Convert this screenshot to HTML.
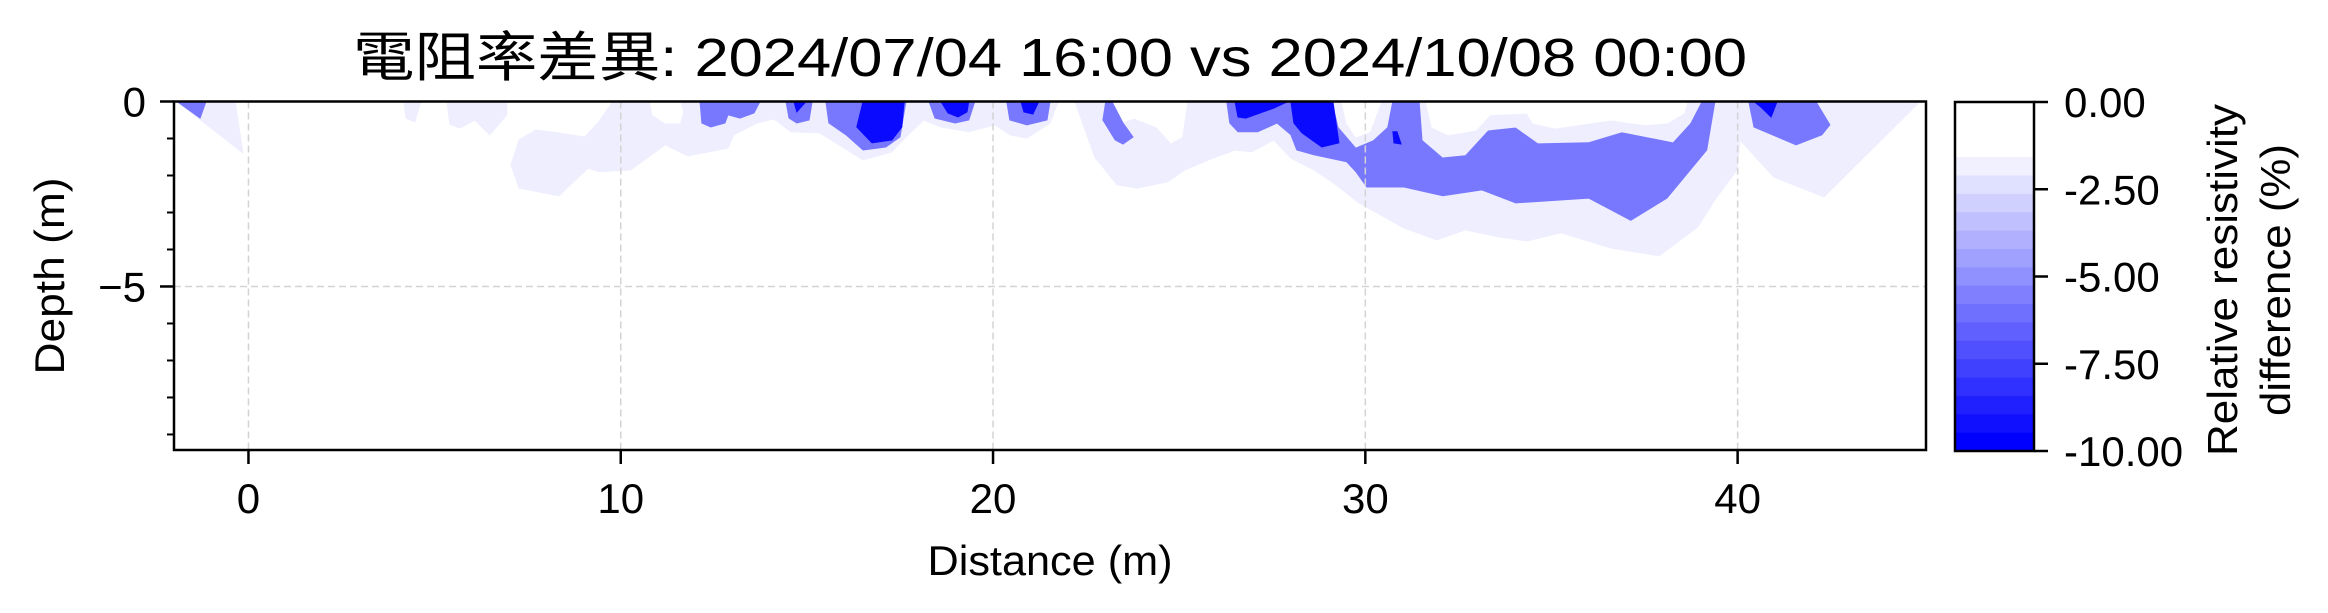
<!DOCTYPE html>
<html><head><meta charset="utf-8">
<style>
html,body{margin:0;padding:0;background:#fff;}
svg{display:block;}
text{font-family:"Liberation Sans","Noto Sans CJK TC",sans-serif;fill:#000;}
</style></head>
<body>
<svg id="chart" width="2328" height="613" viewBox="0 0 2328 613" xmlns="http://www.w3.org/2000/svg">
  <rect x="0" y="0" width="2328" height="613" fill="#fff"/>
  <text x="1050" y="76" font-size="54" text-anchor="middle" textLength="1394" lengthAdjust="spacingAndGlyphs">電阻率差異: 2024/07/04 16:00 vs 2024/10/08 00:00</text>
  <clipPath id="plotclip"><rect x="174" y="101.5" width="1752" height="348.5"/></clipPath>
  <g id="contours" clip-path="url(#plotclip)"></g>
  <g id="grid"></g>
  <g id="axes"></g>
  <g id="cbar"></g>
  <text x="1050" y="575" font-size="42" text-anchor="middle" textLength="245" lengthAdjust="spacingAndGlyphs">Distance (m)</text>
  <text x="0" y="0" font-size="42" text-anchor="middle" textLength="197" lengthAdjust="spacingAndGlyphs" transform="translate(64,276) rotate(-90)">Depth (m)</text>
  <text font-size="42" text-anchor="middle" transform="translate(2237,280) rotate(-90)"><tspan x="0" y="0" textLength="352" lengthAdjust="spacingAndGlyphs">Relative resistivity</tspan><tspan x="0" y="53" textLength="272" lengthAdjust="spacingAndGlyphs">difference (%)</tspan></text>
</svg>
<script>
// ---- axis config data ----
const xTicks = [0, 10, 20, 30, 40];
const yTicks = [0, -5];
const yMinorTicks = [-1, -2, -3, -4, -6, -7, -8, -9];
const cbarTicks = [0, -2.5, -5, -7.5, -10];
const cbarTickLabels = ["0.00", "-2.50", "-5.00", "-7.50", "-10.00"];
const cbarLevelCount = 19;

// ---- contour regions: [distance m, depth m] ----
const lightLeftTri = [[-1.92,0],[-0.15,-1.39],[-0.36,0]];
const lightBlobA = [[4.18,0],[4.23,-0.45],[4.47,-0.55],[4.63,0]];
const lightBlobB = [[5.33,0],[5.41,-0.61],[5.68,-0.72],[6.08,-0.50],[6.48,-0.90],[6.94,-0.36],[6.94,0]];
const lightMainLeft = [[9.79,0],[9.41,-0.55],[9.04,-0.96],[8.10,-0.82],[7.72,-0.77],[7.27,-1.04],[7.05,-1.71],[7.27,-2.34],[8.34,-2.55],[9.12,-1.80],[9.41,-1.90],[10.27,-1.85],[11.19,-1.17],[11.80,-1.47],[12.88,-1.26],[13.04,-0.90],[13.66,-0.58],[14.11,-0.47],[14.57,-0.82],[15.35,-0.85],[16.51,-1.58],[17.28,-1.36],[17.66,-0.96],[18.14,-0.50],[18.60,-0.69],[19.35,-0.82],[20.05,-0.63],[20.45,-0.90],[20.91,-0.99],[21.53,-0.58],[21.75,0]];
const lightMainRight = [[22.20,0],[22.73,-1.50],[23.33,-2.25],[23.87,-2.34],[24.70,-2.17],[25.15,-1.85],[25.91,-1.53],[26.50,-1.31],[26.95,-1.36],[27.54,-1.04],[28.00,-1.53],[28.62,-1.85],[29.21,-2.25],[29.83,-2.74],[31.04,-3.42],[31.92,-3.74],[32.68,-3.47],[33.59,-3.66],[34.34,-3.77],[35.25,-3.55],[36.60,-3.96],[37.89,-4.17],[38.93,-3.39],[39.39,-2.66],[39.98,-1.85],[40.06,-1.04],[40.97,-2.04],[42.32,-2.58],[44.90,0]];
const whiteNotchA = [[10.79,0],[10.86,-0.36],[11.19,-0.58],[11.59,-0.58],[11.67,-0.28],[11.59,0]];
const whiteNotchB = [[23.12,0],[23.49,-0.55],[23.79,-0.45],[24.40,-0.69],[24.78,-1.12],[25.07,-0.96],[25.21,0]];
const midLeftTri = [[-1.92,0],[-1.30,-0.45],[-1.14,0]];
const mid12 = [[12.13,0],[12.18,-0.58],[12.42,-0.69],[12.80,-0.58],[12.88,-0.36],[13.20,-0.45],[13.58,-0.31],[13.74,0]];
const mid15 = [[14.44,0],[14.52,-0.45],[14.73,-0.58],[15.06,-0.50],[15.14,0]];
const mid17 = [[15.51,0],[15.59,-0.58],[16.05,-0.90],[16.51,-1.31],[17.12,-1.23],[17.50,-0.96],[17.66,0]];
const mid19 = [[18.28,0],[18.44,-0.45],[18.98,-0.58],[19.35,-0.50],[19.51,0]];
const mid21 = [[20.37,0],[20.45,-0.50],[20.91,-0.63],[21.45,-0.50],[21.53,0]];
const mid23 = [[23.03,0],[22.95,-0.50],[23.28,-1.04],[23.49,-1.15],[23.76,-0.96],[23.49,-0.58],[23.19,0]];
const midMain = [[26.28,0],[26.36,-0.58],[26.58,-0.82],[27.11,-0.82],[27.63,-0.58],[28.00,-0.90],[28.16,-1.31],[28.62,-1.44],[29.50,-1.63],[29.75,-1.90],[30.04,-2.31],[31.04,-2.31],[32.08,-2.55],[33.13,-2.39],[34.04,-2.74],[36.00,-2.61],[37.13,-3.21],[38.10,-2.61],[39.17,-1.31],[39.39,0]];
const mid41 = [[40.30,0],[40.44,-0.69],[41.57,-1.17],[42.26,-0.90],[42.48,-0.63],[42.10,0]];
const lightHole30 = [[29.13,0],[29.29,-0.69],[29.75,-1.23],[30.20,-1.04],[30.58,-0.69],[30.71,0]];
const whiteHole30 = [[29.37,0],[29.50,-0.58],[29.75,-0.96],[30.12,-0.82],[30.42,0]];
const lightHole35 = [[31.47,0],[31.55,-1.04],[32.08,-1.50],[32.68,-1.44],[33.29,-0.77],[34.04,-0.69],[34.64,-1.12],[36.00,-1.09],[36.89,-0.82],[38.26,-1.09],[38.72,-0.58],[39.02,0]];
const whiteHole35 = [[31.63,0],[31.79,-0.69],[32.22,-0.90],[32.97,-0.77],[33.35,-0.36],[34.34,-0.31],[34.50,-0.58],[35.09,-0.72],[36.60,-0.50],[37.52,-0.63],[38.11,-0.58],[38.56,-0.31],[38.64,0]];
const dark15 = [[14.65,0],[14.73,-0.28],[14.98,0]];
const dark17 = [[16.51,0],[16.34,-0.69],[16.75,-1.12],[17.28,-1.04],[17.55,-0.69],[17.61,0]];
const dark19 = [[18.60,0],[18.79,-0.31],[19.06,-0.42],[19.30,-0.28],[19.35,0]];
const dark21 = [[20.75,0],[20.83,-0.28],[21.07,-0.34],[21.23,0]];
const dark27 = [[26.50,0],[26.58,-0.42],[26.79,-0.45],[27.17,-0.31],[27.54,-0.18],[27.92,0]];
const dark28 = [[28.00,0],[28.08,-0.58],[28.30,-0.85],[28.83,-1.23],[29.29,-1.12],[29.13,0]];
const dark31 = [[30.74,-0.82],[30.85,-0.82],[30.96,-1.15],[30.77,-1.12]];
const dark41 = [[40.44,0],[40.60,-0.13],[40.90,-0.42],[41.06,0]];

// ---- axis functions ----
const X0 = 174, X1 = 1926, Y0 = 101.5, Y1 = 450;
const xMin = -2.0, xMax = 45.06, yMax = 0, yMin = -9.42;
function sx(v){ return X0 + (v - xMin) / (xMax - xMin) * (X1 - X0); }
function sy(v){ return Y0 + (yMax - v) / (yMax - yMin) * (Y1 - Y0); }
const CB_X0 = 1955, CB_X1 = 2034, CB_Y0 = 102, CB_Y1 = 451;
function cy(v){ return CB_Y0 + (0 - v) / 10 * (CB_Y1 - CB_Y0); }

const NS = "http://www.w3.org/2000/svg";
function mk(tag, attrs){ const e = document.createElementNS(NS, tag); for (const k in attrs) e.setAttribute(k, attrs[k]); return e; }

const LIGHT = "#eeeeff", MID = "#7878ff", DARK = "#0a0aff", WHITE = "#ffffff";
const layers = [
  ["light-left-triangle", lightLeftTri, LIGHT], ["light-blob-a", lightBlobA, LIGHT], ["light-blob-b", lightBlobB, LIGHT],
  ["light-region-left", lightMainLeft, LIGHT], ["light-region-right", lightMainRight, LIGHT],
  ["white-notch-a", whiteNotchA, WHITE], ["white-notch-b", whiteNotchB, WHITE],
  ["mid-left-triangle", midLeftTri, MID], ["mid-region-12", mid12, MID], ["mid-region-15", mid15, MID],
  ["mid-region-17", mid17, MID], ["mid-region-19", mid19, MID], ["mid-region-21", mid21, MID],
  ["mid-region-23", mid23, MID], ["mid-region-main", midMain, MID], ["mid-region-41", mid41, MID],
  ["light-hole-30", lightHole30, LIGHT], ["white-hole-30", whiteHole30, WHITE],
  ["light-hole-35", lightHole35, LIGHT], ["white-hole-35", whiteHole35, WHITE],
  ["dark-region-15", dark15, DARK], ["dark-region-17", dark17, DARK], ["dark-region-19", dark19, DARK],
  ["dark-region-21", dark21, DARK], ["dark-region-27", dark27, DARK], ["dark-region-28", dark28, DARK],
  ["dark-region-31", dark31, DARK], ["dark-region-41", dark41, DARK]
];
const cg = document.getElementById("contours");
layers.forEach(function(L){
  const pts = L[1].map(function(p){ return sx(p[0]).toFixed(1) + "," + sy(p[1]).toFixed(1); }).join(" ");
  const el = mk("polygon", {points: pts, fill: L[2], stroke: L[2], "stroke-width": 1});
  
  
  cg.appendChild(el);
});

// grid
const gg = document.getElementById("grid");
xTicks.forEach(function(t){
  const el = mk("line", {x1: sx(t), x2: sx(t), y1: Y0, y2: Y1, stroke: "#d3d3d3", "stroke-width": 1.5, "stroke-dasharray": "7,4"});
  
  
  gg.appendChild(el);
});
yTicks.forEach(function(t){
  const el = mk("line", {x1: X0, x2: X1, y1: sy(t), y2: sy(t), stroke: "#d3d3d3", "stroke-width": 1.5, "stroke-dasharray": "7,4"});
  
  
  gg.appendChild(el);
});

// axes
const ag = document.getElementById("axes");
const frame = mk("rect", {x: X0, y: Y0, width: X1 - X0, height: Y1 - Y0, fill: "none", stroke: "#000", "stroke-width": 2.5});


ag.appendChild(frame);
xTicks.forEach(function(t){
  const tk = mk("line", {x1: sx(t), x2: sx(t), y1: Y1, y2: Y1 + 14, stroke: "#000", "stroke-width": 2.5});
  
  
  ag.appendChild(tk);
  const lb = mk("text", {x: sx(t), y: 513, "font-size": 42, "text-anchor": "middle"});
  lb.textContent = String(t);
  
  
  ag.appendChild(lb);
});
yTicks.forEach(function(t){
  const tk = mk("line", {x1: X0 - 14, x2: X0, y1: sy(t), y2: sy(t), stroke: "#000", "stroke-width": 2.5});
  
  
  ag.appendChild(tk);
  const lb = mk("text", {x: 146, y: sy(t) + 15, "font-size": 42, "text-anchor": "end"});
  lb.textContent = t === 0 ? "0" : "\u2212" + Math.abs(t);
  
  
  ag.appendChild(lb);
});
yMinorTicks.forEach(function(t){
  const tk = mk("line", {x1: X0 - 7, x2: X0, y1: sy(t), y2: sy(t), stroke: "#000", "stroke-width": 2});
  
  
  ag.appendChild(tk);
});

// colorbar
const cb = document.getElementById("cbar");
const bandH = (CB_Y1 - CB_Y0) / cbarLevelCount;
for (let i = 0; i < cbarLevelCount; i++){
  let t = i < 3 ? 0 : 0.06 + (i - 3) / (cbarLevelCount - 4) * 0.94;
  const c = Math.round(255 * (1 - t));
  const band = mk("rect", {x: CB_X0, y: CB_Y0 + i * bandH, width: CB_X1 - CB_X0, height: bandH + 0.6, fill: "rgb(" + c + "," + c + ",255)"});
  
  
  cb.appendChild(band);
}
const cbFrame = mk("rect", {x: CB_X0, y: CB_Y0, width: CB_X1 - CB_X0, height: CB_Y1 - CB_Y0, fill: "none", stroke: "#000", "stroke-width": 2.5});


cb.appendChild(cbFrame);
cbarTicks.forEach(function(t, i){
  const tk = mk("line", {x1: CB_X1, x2: CB_X1 + 14, y1: cy(t), y2: cy(t), stroke: "#000", "stroke-width": 2.5});
  
  
  cb.appendChild(tk);
  const lb = mk("text", {x: 2064, y: cy(t) + 15, "font-size": 42});
  lb.textContent = cbarTickLabels[i];
  
  
  cb.appendChild(lb);
});
</script>
</body></html>
